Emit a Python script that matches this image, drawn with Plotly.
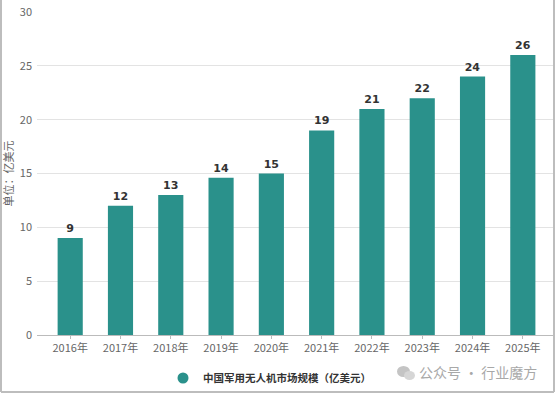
import plotly.graph_objects as go

categories = ["2016年", "2017年", "2018年", "2019年", "2020年", "2021年", "2022年", "2023年", "2024年", "2025年"]
values = [9, 12, 13, 14.6, 15, 19, 21, 22, 24, 26]
labels = ["9", "12", "13", "14", "15", "19", "21", "22", "24", "26"]
series_name = "中国军用无人机市场规模（亿美元）"
y_ticks = [0, 5, 10, 15, 20, 25, 30]

W, H = 556, 394
L, R, T, B = 37, 3, 12, 59
pw, ph = W - L - R, H - T - B
teal = "#2a918b"
font = "Noto Sans CJK SC, Noto Sans, sans-serif"

fig = go.Figure()
fig.add_trace(go.Bar(
    x=categories, y=values, text=labels, textposition="outside",
    textfont=dict(size=11, color="#333333", family="DejaVu Sans", weight="bold"),
    marker=dict(color=teal, line=dict(width=0)),
    cliponaxis=False, showlegend=False, name=series_name,
))
fig.add_trace(go.Scatter(
    x=[None], y=[None], mode="markers", name="<b>" + series_name + "</b>",
    marker=dict(symbol="circle", size=11, color=teal),
))

def px_x(px):
    return (px - L) / pw

def px_y(py):
    return (H - B - py) / ph

fig.update_layout(
    width=W, height=H,
    margin=dict(l=L, r=R, t=T, b=B, autoexpand=False),
    paper_bgcolor="white", plot_bgcolor="white",
    bargap=0.5,
    font=dict(family=font, size=11, color="#666666"),
    xaxis=dict(
        range=[-0.66, 9.6], showgrid=False, showline=True, linecolor="#bbbbbb", linewidth=1,
        ticks="outside", ticklen=3, tickcolor="#bbbbbb", automargin=False,
        tickfont=dict(size=11, color="#666666"),
    ),
    yaxis=dict(
        range=[0, 30], tickvals=y_ticks, showgrid=True, gridcolor="#e3e3e3", gridwidth=1,
        zeroline=False, showline=False, ticks="", ticklabelstandoff=4, automargin=False,
        tickfont=dict(size=11, color="#666666"),
        title=dict(text="单位：亿美元", font=dict(size=11, color="#666666"), standoff=6),
    ),
    legend=dict(
        orientation="h", x=px_x(163), y=px_y(378), xanchor="left", yanchor="middle",
        font=dict(size=10.5, color="#333333", family=font), itemwidth=30,
        bgcolor="rgba(0,0,0,0)",
    ),
    showlegend=True,
)

fig.add_annotation(
    text="公众号 · 行业魔方", xref="paper", yref="paper",
    x=px_x(417), y=px_y(372), xanchor="left", yanchor="middle", showarrow=False,
    font=dict(size=14, color="#a8a8a8", family=font),
)
# wechat-like icon
fig.add_shape(type="circle", xref="paper", yref="paper",
              x0=px_x(397), x1=px_x(410), y0=px_y(377), y1=px_y(366),
              fillcolor="#c4c4c4", line=dict(width=0))
fig.add_shape(type="circle", xref="paper", yref="paper",
              x0=px_x(404), x1=px_x(415), y0=px_y(380), y1=px_y(371),
              fillcolor="#d6d6d6", line=dict(width=0))
# border
for x0, y0, x1, y1 in [(1, 0, 1, 392), (1, 392, 554, 392), (554, 0, 554, 392)]:
    fig.add_shape(type="line", xref="paper", yref="paper",
                  x0=px_x(x0), x1=px_x(x1), y0=px_y(y0), y1=px_y(y1),
                  line=dict(color="#bdbdbd", width=2))

fig.write_html("out.html", config={"displayModeBar": False},
               post_script="document.body.style.margin='0';document.body.style.overflow='hidden';")
